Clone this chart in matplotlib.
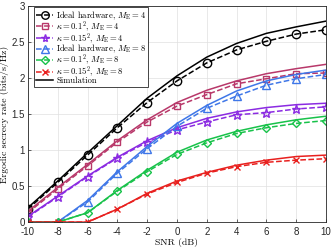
import numpy as np
import matplotlib
matplotlib.use("Agg")
import matplotlib.pyplot as plt

plt.rcParams['mathtext.fontset'] = 'cm'
plt.rcParams['axes.unicode_minus'] = False

snr = [-10, -8, -6, -4, -2, 0, 2, 4, 6, 8, 10]

# analytical (dashed + markers)
ana_ideal4 = [0.18, 0.55, 0.93, 1.31, 1.66, 1.96, 2.21, 2.39, 2.51, 2.61, 2.67]
ana_k1_4 = [0.13, 0.46, 0.78, 1.11, 1.39, 1.61, 1.77, 1.92, 1.99, 2.06, 2.07]
ana_k15_4 = [0.07, 0.35, 0.63, 0.89, 1.11, 1.28, 1.39, 1.49, 1.52, 1.57, 1.60]
ana_ideal8 = [0.0, 0.0, 0.28, 0.68, 1.02, 1.33, 1.58, 1.75, 1.90, 1.99, 2.05]
ana_k1_8 = [0.0, 0.0, 0.13, 0.43, 0.70, 0.94, 1.10, 1.23, 1.31, 1.37, 1.41]
ana_k15_8 = [0.0, 0.0, 0.0, 0.18, 0.39, 0.55, 0.68, 0.77, 0.83, 0.86, 0.88]

# simulation (solid)
sim_ideal4 = [0.20, 0.57, 0.96, 1.34, 1.72, 2.03, 2.29, 2.48, 2.62, 2.71, 2.79]
sim_k1_4 = [0.15, 0.48, 0.80, 1.13, 1.42, 1.66, 1.83, 1.96, 2.06, 2.13, 2.19]
sim_k15_4 = [0.08, 0.36, 0.64, 0.90, 1.13, 1.31, 1.44, 1.53, 1.59, 1.63, 1.65]
sim_ideal8 = [0.0, 0.0, 0.30, 0.70, 1.05, 1.37, 1.62, 1.82, 1.96, 2.05, 2.11]
sim_k1_8 = [0.0, 0.0, 0.13, 0.44, 0.72, 0.97, 1.14, 1.26, 1.35, 1.42, 1.47]
sim_k15_8 = [0.0, 0.0, 0.0, 0.18, 0.40, 0.57, 0.69, 0.79, 0.86, 0.91, 0.93]

labels = [r'Ideal hardware, $M_{\mathrm{E}}=4$',
          r'$\kappa=0.1^2$, $M_{\mathrm{E}}=4$',
          r'$\kappa=0.15^2$, $M_{\mathrm{E}}=4$',
          r'Ideal hardware, $M_{\mathrm{E}}=8$',
          r'$\kappa=0.1^2$, $M_{\mathrm{E}}=8$',
          r'$\kappa=0.15^2$, $M_{\mathrm{E}}=8$']
colors = ['black', '#B8386A', '#8B2BE2', '#3F77E8', '#18C24A', '#E8201E']
markers = ['o', 's', '*', '^', 'D', 'x']
msizes = [6, 5, 6.5, 6, 4.5, 5]

ana = [ana_ideal4, ana_k1_4, ana_k15_4, ana_ideal8, ana_k1_8, ana_k15_8]
sim = [sim_ideal4, sim_k1_4, sim_k15_4, sim_ideal8, sim_k1_8, sim_k15_8]

fig = plt.figure(figsize=(3.32, 2.49), dpi=100)
ax = fig.add_axes([0.084, 0.108, 0.898, 0.868])

for i in range(6):
    ax.plot(snr, sim[i], '-', color=colors[i], lw=1.1)
    ax.plot(snr, ana[i], '--', color=colors[i], lw=1.1, marker=markers[i],
            ms=msizes[i], mfc='none', mew=1.0, label=labels[i])
ax.plot([], [], '-', color='black', lw=1.1, label='Simulation')

ax.set_xlim(-10, 10)
ax.set_ylim(0, 3)
ax.set_xticks(np.arange(-10, 11, 2))
ax.set_yticks([0, 0.5, 1, 1.5, 2, 2.5, 3])
ax.set_yticklabels(['0', '0.5', '1', '1.5', '2', '2.5', '3'])
ax.tick_params(direction='in', labelsize=7, length=2.5, width=0.5, pad=2,
               colors='#262626')
ax.tick_params(axis='x', pad=3.5)
for lab in ax.get_xticklabels() + ax.get_yticklabels():
    lab.set_family('Liberation Sans')
ax.grid(True, color='#E0E0E0', lw=0.5)
for s in ax.spines.values():
    s.set_linewidth(0.6)
    s.set_color('#262626')

ax.set_xlabel('SNR (dB)', family='cmr10', fontsize=7, labelpad=0.5)
ax.set_ylabel('Ergodic secrecy rate (bits/s/Hz)', family='cmr10', fontsize=7, labelpad=2)

leg = ax.legend(loc='upper left', bbox_to_anchor=(0.022, 0.993),
                prop={'family': 'cmr10', 'size': 6.2},
                handlelength=2.0, labelspacing=-0.3, borderpad=0.2,
                handletextpad=0.35, borderaxespad=0.0, fancybox=False,
                framealpha=1, markerscale=0.9)
leg.get_frame().set_edgecolor('#262626')
leg.get_frame().set_linewidth(0.6)

fig.savefig('out.png', dpi=100)
